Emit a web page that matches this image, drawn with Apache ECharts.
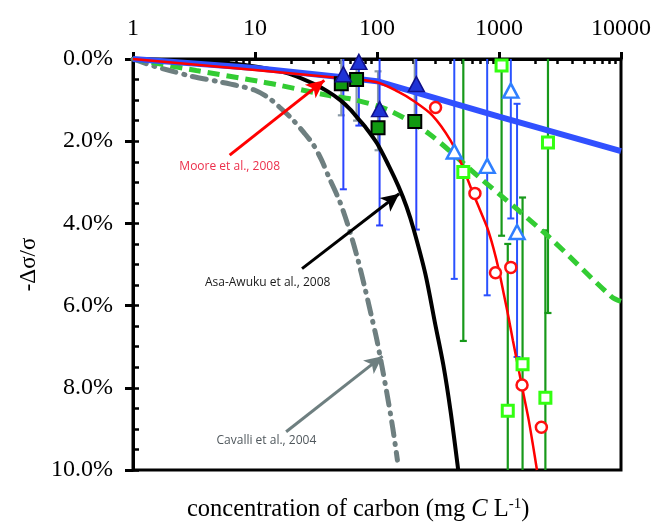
<!DOCTYPE html>
<html>
<head>
<meta charset="utf-8">
<script src="https://cdn.jsdelivr.net/npm/echarts@6/dist/echarts.min.js"></script>
<style>
html,body{margin:0;padding:0;background:#fff;}
#chart{width:654px;height:522px;}
</style>
</head>
<body>
<div id="chart"></div>
<script>
// ---- data (x: mg C / L, y: -Δσ/σ in %) ----
const xTickLabels = [1, 10, 100, 1000, 10000];
const yTickLabels = ['0.0%', '2.0%', '4.0%', '6.0%', '8.0%', '10.0%'];

const blueLineX = [1, 10, 50, 100, 1000, 10000];
const blueLineY = [0, 0.22, 0.44, 0.54, 1.40, 2.24];

const mooreX = [1, 10, 40.7, 98, 150, 200, 284, 400, 500, 600, 700, 800, 900, 1000, 1100, 1200, 1300, 1452, 1600, 1751, 1900, 2047];
const mooreY = [0, 0.27, 0.44, 0.56, 0.80, 1.02, 1.37, 1.98, 2.60, 3.20, 3.68, 4.10, 4.60, 5.15, 5.75, 6.30, 6.85, 7.57, 8.20, 8.78, 9.40, 10];

const asaX = [1, 2, 5, 10, 15, 20, 30, 40, 50, 60, 70, 80, 100, 125, 150, 175, 200, 250, 300, 350, 400, 463];
const asaY = [0, 0.03, 0.08, 0.18, 0.28, 0.38, 0.60, 0.80, 1.00, 1.22, 1.45, 1.65, 2.05, 2.60, 3.10, 3.60, 4.15, 5.25, 6.45, 7.45, 8.55, 10];

const cavalliX = [1, 1.5, 2, 3, 5, 7, 10, 13, 16, 20, 25, 30, 35, 40, 50, 60, 70, 80, 90, 100, 120, 135, 147];
const cavalliY = [0, 0.18, 0.28, 0.42, 0.55, 0.64, 0.76, 0.95, 1.18, 1.45, 1.78, 2.08, 2.45, 2.85, 3.50, 4.20, 4.90, 5.60, 6.25, 6.85, 8.10, 9.00, 9.76];

const greenLineX = [1, 3.3, 11.6, 15.9, 40.7, 67, 126, 267, 684, 2400, 8400, 10000];
const greenLineY = [0, 0.28, 0.56, 0.64, 0.89, 1.0, 1.25, 1.82, 2.87, 4.25, 5.79, 5.9];

// filled dark-blue triangles: [x, y] and error bars [x, low, high]
const darkTri = [[53, 0.37], [71, 0.07], [105, 1.22], [210, 0.61]];
const darkTriErr = [[53, -1.5, 3.17], [71, -1.5, 1.62], [105, -1.6, 4.05], [210, -2.9, 4.15]];
// filled dark-green squares
const darkSq = [[51, 0.6], [68, 0.5], [102, 1.67], [204, 1.52]];
const darkSqErr = [[51, -0.17, 1.37], [68, -0.5, 1.5], [102, 0.3, 2.22], [204, -1.0, 1.55]];
// open red circles
const redCirc = [[302, 1.18], [635, 3.27], [936, 5.20], [1250, 5.07], [1545, 7.93], [2225, 8.96]];
// open light-blue triangles
const lightTri = [[430, 2.25], [800, 2.6], [1250, 0.77], [1406, 4.21]];
const lightTriErr = [[430, -0.85, 5.35], [800, -0.55, 5.75], [1250, -2.3, 3.88], [1406, 1.09, 7.25]];
// open light-green squares
const lightSq = [[1050, 0.16], [510, 2.75], [2520, 2.03], [1560, 7.43], [1180, 8.56], [2400, 8.24]];
const lightSqErr = [[1050, -4, 4.3], [510, -1.36, 6.86], [2520, -2.1, 6.18], [1560, 3.37, 11.5], [1180, 4.5, 12.6], [2400, 4.17, 12.3]];

// annotations: label text, label anchor, arrow tail, arrow head (data coords)
const annoText = ['Moore et al., 2008', 'Asa-Awuku et al., 2008', 'Cavalli et al., 2004'];
const annoLabelAt = [[6.2, 2.62], [12.7, 5.44], [12.4, 9.28]];
const annoFrom = [[6.2, 2.34], [24.3, 5.10], [18, 9.07]];
const annoTo = [[37, 0.52], [152, 3.28], [111, 7.23]];

// ---- build ----
const minorX = [];
[1, 10, 100, 1000].forEach(d => { for (let k = 2; k <= 9; k++) minorX.push(d * k); });
const zip = (xs, ys) => xs.map((x, i) => [x, ys[i]]);

function errRender(color, width) {
  return function (params, api) {
    const x = api.value(0), lo = api.value(1), hi = api.value(2);
    const p1 = api.coord([x, lo]);
    const p2 = api.coord([x, hi]);
    const cs = params.coordSys;
    const top = cs.y, bot = cs.y + cs.height;
    const yA = Math.min(p1[1], p2[1]), yB = Math.max(p1[1], p2[1]);
    const y1 = Math.max(yA, top), y2 = Math.min(yB, bot);
    const px = p1[0];
    const ch = [{ type: 'line', shape: { x1: px, y1: y1, x2: px, y2: y2 }, style: { stroke: color, lineWidth: width } }];
    const cap = 3.5;
    if (yA >= top && yA <= bot) ch.push({ type: 'line', shape: { x1: px - cap, y1: yA, x2: px + cap, y2: yA }, style: { stroke: color, lineWidth: width } });
    if (yB >= top && yB <= bot) ch.push({ type: 'line', shape: { x1: px - cap, y1: yB, x2: px + cap, y2: yB }, style: { stroke: color, lineWidth: width } });
    return { type: 'group', children: ch };
  };
}
function errSeries(data, color, width) {
  return { type: 'custom', data: data, renderItem: errRender(color, width), encode: { x: 0, y: [1, 2] }, z: 1, silent: true };
}
function arrowMark(i, color) {
  return {
    silent: true, symbol: ['none', 'arrow'], symbolSize: [13, 18],
    label: { show: false }, lineStyle: { color: color, width: 3, type: 'solid' },
    data: [[{ coord: annoFrom[i] }, { coord: annoTo[i] }]]
  };
}
function labelMark(i, color) {
  return {
    silent: true, symbol: 'circle', symbolSize: 0,
    label: { show: true, position: 'inside', formatter: annoText[i], color: color, fontFamily: 'Open Sans', fontSize: 12 },
    data: [{ coord: annoLabelAt[i], value: 0 }]
  };
}

const serif = 'Liberation Serif';
const chart = echarts.init(document.getElementById('chart'), null, { renderer: 'canvas' });
chart.setOption({
  animation: false,
  backgroundColor: '#fff',
  grid: { left: 133, right: 32, top: 59, bottom: 52, show: true, borderColor: '#000', borderWidth: 3, backgroundColor: 'transparent' },
  xAxis: [
    {
      type: 'log', logBase: 10, min: 1, max: 10000, position: 'top',
      axisLine: { show: true, lineStyle: { color: '#000', width: 3 } },
      axisTick: { show: true, inside: false, length: 7, lineStyle: { color: '#000', width: 3 } },
      axisLabel: { show: true, color: '#000', fontFamily: serif, fontSize: 24, margin: 18,
        customValues: xTickLabels, formatter: v => String(Math.round(v)) },
      splitLine: { show: false }, minorSplitLine: { show: false }
    },
    {
      type: 'log', logBase: 10, min: 1, max: 10000, position: 'top',
      axisLine: { show: false },
      axisTick: { show: true, inside: true, length: 5, customValues: minorX, lineStyle: { color: '#000', width: 2.5 } },
      axisLabel: { show: false }, splitLine: { show: false }
    }
  ],
  yAxis: [
    {
      type: 'value', inverse: true, min: 0, max: 10, interval: 2,
      axisLine: { show: true, lineStyle: { color: '#000', width: 3 } },
      axisTick: { show: true, inside: false, length: 8, lineStyle: { color: '#000', width: 3 } },
      axisLabel: { color: '#000', fontFamily: serif, fontSize: 24, margin: 20, formatter: (v) => yTickLabels[Math.round(v / 2)] },
      splitLine: { show: false },
      name: '-Δσ/σ', nameLocation: 'middle', nameRotate: 90, nameGap: 90,
      nameTextStyle: { color: '#000', fontFamily: serif, fontSize: 23 }
    },
    {
      type: 'value', inverse: true, min: 0, max: 10, interval: 0.5, position: 'left',
      axisLine: { show: false },
      axisTick: { show: true, inside: true, length: 6, lineStyle: { color: '#000', width: 2.5 } },
      axisLabel: { show: false }, splitLine: { show: false }
    }
  ],
  graphic: [{
    type: 'text', left: 187, top: 497, silent: true,
    style: {
      text: '{n|concentration of carbon (mg }{i|C}{n| L}{s|-1}{n|)}',
      rich: {
        n: { fontFamily: serif, fontSize: 24.5, fill: '#000', lineHeight: 26 },
        i: { fontFamily: serif, fontSize: 24.5, fontStyle: 'italic', fill: '#000', lineHeight: 26 },
        s: { fontFamily: serif, fontSize: 15, fill: '#000', verticalAlign: 'top', lineHeight: 26 }
      }
    }
  }],
  series: [
    errSeries(darkSqErr, '#8a9aa6', 2.2),
    errSeries(darkTriErr, '#2a44ff', 2),
    errSeries(lightTriErr, '#2a52ff', 2),
    errSeries(lightSqErr, '#17991a', 2.2),
    { type: 'line', data: zip(cavalliX, cavalliY), showSymbol: false, smooth: 0.3, z: 2, silent: true,
      lineStyle: { color: '#6e7f80', width: 5, type: [14, 8, 1, 8], cap: 'round' },
      markLine: arrowMark(2, '#6e7f80'), markPoint: labelMark(2, '#4f575c') },
    { type: 'line', data: zip(greenLineX, greenLineY), showSymbol: false, smooth: 0.3, z: 2, silent: true,
      lineStyle: { color: '#33cc33', width: 5, type: [12, 7] } },
    { type: 'line', data: zip(asaX, asaY), showSymbol: false, smooth: 0.3, z: 2, silent: true,
      lineStyle: { color: '#000', width: 4 },
      markLine: arrowMark(1, '#000'), markPoint: labelMark(1, '#1a1a1a') },
    { type: 'line', data: zip(blueLineX, blueLineY), showSymbol: false, smooth: false, z: 2, silent: true,
      lineStyle: { color: '#3150ff', width: 6 } },
    { type: 'line', data: zip(mooreX, mooreY), showSymbol: false, smooth: 0.3, z: 3, silent: true,
      lineStyle: { color: '#ff0000', width: 2.5 },
      markLine: arrowMark(0, '#ff0000'), markPoint: labelMark(0, '#ec2f4b') },
    { type: 'scatter', data: darkSq, symbol: 'rect', symbolSize: 13, z: 4, silent: true,
      itemStyle: { color: '#119911', borderColor: '#000', borderWidth: 2, opacity: 1 } },
    { type: 'scatter', data: darkTri, symbol: 'triangle', symbolSize: [16, 15], z: 4, silent: true,
      itemStyle: { color: '#1f33d6', borderColor: '#10108a', borderWidth: 1.5, opacity: 1 } },
    { type: 'scatter', data: redCirc, symbol: 'circle', symbolSize: 11, z: 4, silent: true,
      itemStyle: { color: '#fff', borderColor: '#ff1010', borderWidth: 2.5, opacity: 1 } },
    { type: 'scatter', data: lightTri, symbol: 'triangle', symbolSize: [15, 14], z: 4, silent: true,
      itemStyle: { color: '#fff', borderColor: '#2f7fff', borderWidth: 2.5, opacity: 1 } },
    { type: 'scatter', data: lightSq, symbol: 'rect', symbolSize: 11, z: 4, silent: true,
      itemStyle: { color: '#fff', borderColor: '#33ff11', borderWidth: 3, opacity: 1 } }
  ]
});
</script>
</body>
</html>
